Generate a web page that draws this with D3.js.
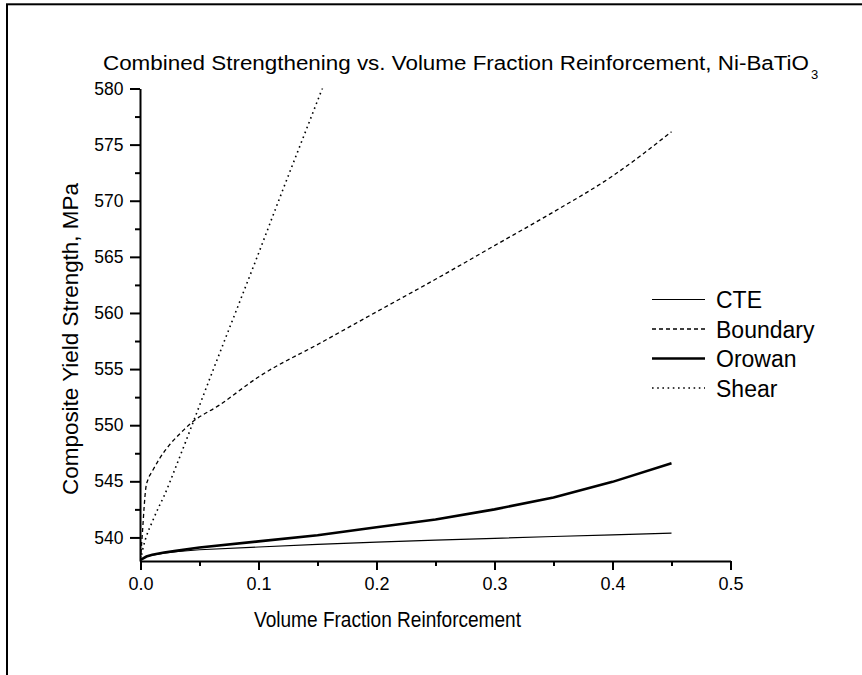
<!DOCTYPE html>
<html>
<head>
<meta charset="utf-8">
<script src="https://cdn.jsdelivr.net/npm/d3@7"></script>
<style>
  body { margin: 0; background: #fff; }
  svg { display: block; font-family: "Liberation Sans", Arial, sans-serif; }
  .axis path, .axis line { stroke: #000; stroke-width: 2px; }
  .axis text { fill: #000; }
</style>
</head>
<body>
<script>
// series: volume fraction -> composite yield strength (MPa)
var cteFrac = [0, 0.005, 0.01, 0.02, 0.03, 0.05, 0.1, 0.15, 0.2, 0.25, 0.3, 0.35, 0.4, 0.45];
var cteVal = [538.0, 538.3, 538.42, 538.6, 538.72, 538.9, 539.15, 539.38, 539.58, 539.76, 539.92, 540.08, 540.23, 540.38];

var boundaryFrac = [0, 0.001, 0.002, 0.003, 0.0045, 0.0065, 0.01, 0.016, 0.025, 0.033, 0.043, 0.067, 0.1, 0.152, 0.2, 0.25, 0.3, 0.35, 0.4, 0.45];
var boundaryVal = [538.0, 539.5, 541.0, 542.6, 544.4, 545.2, 545.9, 547.0, 548.3, 549.2, 550.2, 551.8, 554.3, 557.3, 560.1, 563.0, 566.0, 569.0, 572.2, 576.15];

var orowanFrac = [0, 0.005, 0.01, 0.02, 0.03, 0.05, 0.1, 0.15, 0.2, 0.25, 0.3, 0.35, 0.4, 0.45];
var orowanVal = [538.0, 538.3, 538.45, 538.65, 538.8, 539.1, 539.65, 540.2, 540.9, 541.6, 542.5, 543.55, 544.95, 546.6];

var shearFrac = [0, 0.0025, 0.005, 0.01, 0.015, 0.02, 0.03, 0.04, 0.06, 0.08, 0.1, 0.12, 0.14, 0.16];
var shearVal = [538.0, 539.2, 540.1, 541.4, 542.6, 543.7, 546.3, 549.0, 554.5, 559.9, 565.3, 570.8, 576.2, 581.6];

var xTicks = [0, 0.1, 0.2, 0.3, 0.4, 0.5];
var xMinor = [0.05, 0.15, 0.25, 0.35, 0.45];
var yTicks = [540, 545, 550, 555, 560, 565, 570, 575, 580];
var yMinor = [542.5, 547.5, 552.5, 557.5, 562.5, 567.5, 572.5, 577.5];

var width = 862, height = 675;

var svg = d3.select("body").append("svg")
    .attr("width", width)
    .attr("height", height);

svg.append("rect")
    .attr("width", width).attr("height", height)
    .attr("fill", "#fff");

// page frame, runs off right and bottom
svg.append("rect")
    .attr("x", 7).attr("y", 4.3)
    .attr("width", 900).attr("height", 700)
    .attr("fill", "none")
    .attr("stroke", "#000")
    .attr("stroke-width", 2);

var x = d3.scaleLinear().domain([0, 0.5]).range([140.5, 730.5]);
var y = d3.scaleLinear().domain([537.9, 580]).range([561, 88.5]);

svg.append("defs").append("clipPath").attr("id", "plot")
    .append("rect")
    .attr("x", 140).attr("y", 88.5)
    .attr("width", 592).attr("height", 473);

var series = [
    {name: "CTE", frac: cteFrac, val: cteVal, w: 1.1, dash: null, curve: d3.curveLinear},
    {name: "Boundary", frac: boundaryFrac, val: boundaryVal, w: 1.3, dash: "4,3", curve: d3.curveMonotoneX},
    {name: "Orowan", frac: orowanFrac, val: orowanVal, w: 2.6, dash: null, curve: d3.curveLinear},
    {name: "Shear", frac: shearFrac, val: shearVal, w: 1.6, dash: "1.6,3.6", curve: d3.curveMonotoneX}
];

var g = svg.append("g").attr("clip-path", "url(#plot)");

series.forEach(function (s) {
    var pts = s.frac.map(function (f, i) { return [f, s.val[i]]; });
    var line = d3.line()
        .x(function (d) { return x(d[0]); })
        .y(function (d) { return y(d[1]); })
        .curve(s.curve);
    g.append("path")
        .datum(pts)
        .attr("d", line)
        .attr("fill", "none")
        .attr("stroke", "#000")
        .attr("stroke-width", s.w)
        .attr("stroke-dasharray", s.dash);
});

// axes
var xAxis = svg.append("g")
    .attr("class", "axis")
    .attr("transform", "translate(0,561)")
    .call(d3.axisBottom(x).tickValues(xTicks).tickSize(9).tickSizeOuter(0).tickPadding(7)
        .tickFormat(d3.format(".1f")));
xAxis.selectAll("text").style("font-size", "18px");

svg.append("g")
    .attr("class", "axis")
    .attr("transform", "translate(0,561)")
    .call(d3.axisBottom(x).tickValues(xMinor).tickSize(5).tickFormat(""))
    .select(".domain").remove();

var yAxis = svg.append("g")
    .attr("class", "axis")
    .attr("transform", "translate(140,0)")
    .call(d3.axisLeft(y).tickValues(yTicks).tickSize(10).tickSizeOuter(0).tickPadding(6.5));
yAxis.selectAll("text").style("font-size", "17.5px");

svg.append("g")
    .attr("class", "axis")
    .attr("transform", "translate(140,0)")
    .call(d3.axisLeft(y).tickValues(yMinor).tickSize(5).tickFormat(""))
    .select(".domain").remove();

// titles
svg.append("text")
    .attr("x", 103).attr("y", 70)
    .attr("textLength", 706)
    .attr("lengthAdjust", "spacingAndGlyphs")
    .style("font-size", "20px")
    .text("Combined Strengthening vs. Volume Fraction Reinforcement, Ni-BaTiO");
svg.append("text")
    .attr("x", 811).attr("y", 79)
    .style("font-size", "13px")
    .text("3");

svg.append("text")
    .attr("x", 254).attr("y", 626.5)
    .attr("textLength", 267)
    .attr("lengthAdjust", "spacingAndGlyphs")
    .style("font-size", "22px")
    .text("Volume Fraction Reinforcement");

svg.append("text")
    .attr("transform", "translate(78,339) rotate(-90)")
    .attr("text-anchor", "middle")
    .attr("textLength", 312)
    .attr("lengthAdjust", "spacingAndGlyphs")
    .style("font-size", "22.5px")
    .text("Composite Yield Strength, MPa");

// legend
var legend = svg.append("g").attr("transform", "translate(652,299.5)");
series.forEach(function (s, i) {
    var row = legend.append("g").attr("transform", "translate(0," + (i * 29.5) + ")");
    row.append("line")
        .attr("x1", 0).attr("x2", 53)
        .attr("stroke", "#000")
        .attr("stroke-width", s.w)
        .attr("stroke-dasharray", s.dash);
    row.append("text")
        .attr("x", 64).attr("y", 8.5)
        .style("font-size", "23px")
        .text(s.name);
});
</script>
</body>
</html>
